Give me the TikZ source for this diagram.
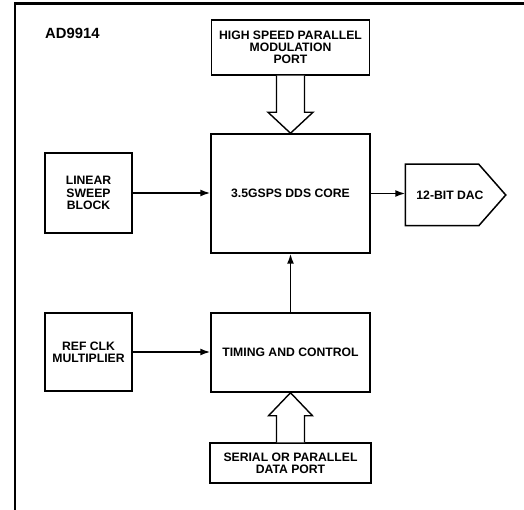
\documentclass[tikz,border=0pt]{standalone}
\usepackage{fontspec}
\setmainfont{Liberation Sans}
\usetikzlibrary{arrows.meta,calc}
\tikzset{
  blk/.style={draw, line width=1.5pt, rectangle, inner sep=0pt, align=center,
    font=\bfseries\fontsize{12.2}{12.2}\selectfont},
  arr/.style={line width=1.5pt, -{Latex[length=10pt,width=7pt]}},
  hollow/.style={line width=1.4pt, line join=miter, fill=white},
  frame/.style={line width=2.2pt}
}
\begin{document}
\begin{tikzpicture}[x=1pt,y=-1pt]
\useasboundingbox (0,0) rectangle (524,510);
\draw[frame] (15,512) -- (15,3.5) -- (526,3.5);
\node[anchor=west, font=\bfseries\fontsize{14.8}{15}\selectfont, inner sep=0pt] (title) at (45,33) {AD9914};

\node[blk, minimum width=158pt, minimum height=55pt] (hpm) at (290.5,47.5) {HIGH SPEED PARALLEL\\MODULATION\\PORT};
\node[blk, minimum width=159pt, minimum height=119pt] (dds) at (290.5,193.5) {3.5GSPS DDS CORE};
\node[blk, minimum width=87pt, minimum height=80pt] (lsb) at (88.5,193) {LINEAR\\SWEEP\\BLOCK};
\node[blk, minimum width=87pt, minimum height=78pt] (ref) at (88.5,352) {REF CLK\\MULTIPLIER};
\node[blk, minimum width=159pt, minimum height=79pt] (tim) at (290.5,352.5) {TIMING AND CONTROL};
\node[blk, minimum width=161pt, minimum height=40pt] (ser) at (290.5,463) {SERIAL OR PARALLEL\\DATA PORT};
\node[blk, draw=none, minimum width=99pt, minimum height=60pt] (dac) at (455.5,195) {\hspace*{-11pt}12-BIT DAC};
\draw[line width=1.5pt, line join=miter] (dac.north west) -- ($(dac.north east)+(-27,0)$) -- (dac.east) -- ($(dac.south east)+(-27,0)$) -- (dac.south west) -- cycle;

\draw[arr] (lsb.east) -- (lsb.east -| dds.west);
\draw[arr] (dds.east) -- (dds.east -| dac.west);
\draw[arr] (ref.east) -- (ref.east -| tim.west);
\draw[arr] (tim.north) -- (dds.south);

\draw[hollow] ($(hpm.south)+(-14,0)$) -- ($(dds.north)+(-14,-21)$) -- ($(dds.north)+(-22.5,-21)$) -- (dds.north)
  -- ($(dds.north)+(22.5,-21)$) -- ($(dds.north)+(14,-21)$) -- ($(hpm.south)+(14,0)$);
\draw[hollow] ($(ser.north)+(-14,0)$) -- ($(tim.south)+(-14,23)$) -- ($(tim.south)+(-22,23)$) -- (tim.south)
  -- ($(tim.south)+(22,23)$) -- ($(tim.south)+(14,23)$) -- ($(ser.north)+(14,0)$);
\end{tikzpicture}
\end{document}
